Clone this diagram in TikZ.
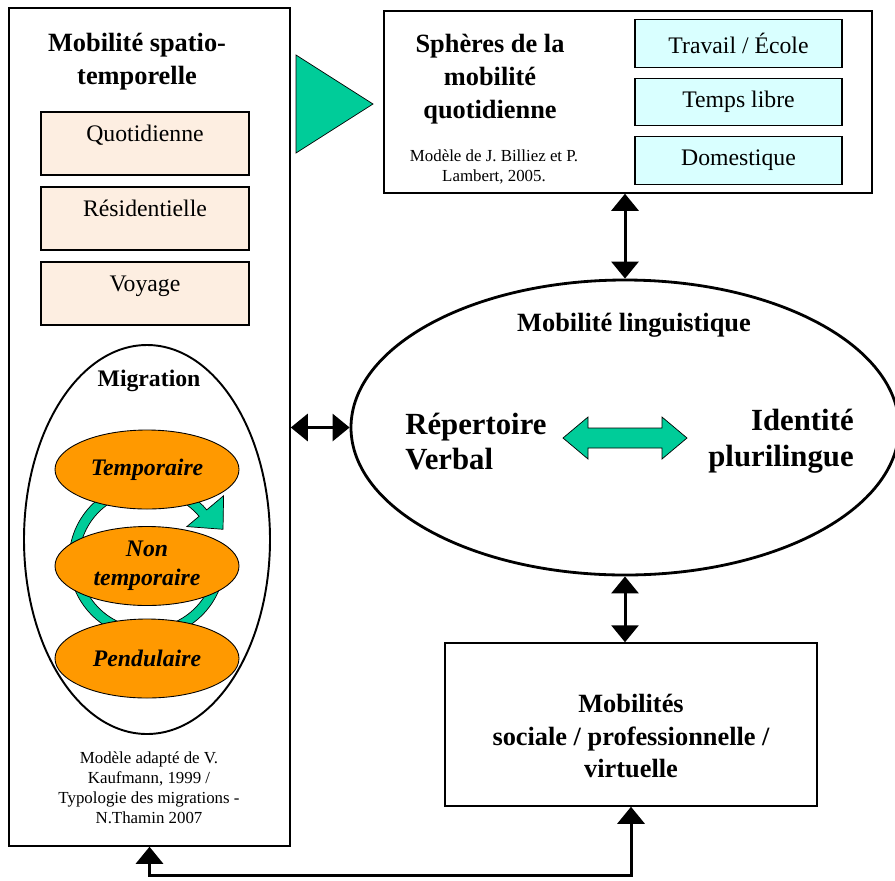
\documentclass[tikz,border=0pt]{standalone}
\usepackage{fontspec}
\setmainfont{Liberation Serif}
\usepackage{xcolor}
\usetikzlibrary{arrows.meta,positioning,shapes.geometric}
\definecolor{peach}{HTML}{FDEEE1}
\definecolor{skyfill}{HTML}{D9FFFF}
\definecolor{orangefill}{HTML}{FF9900}
\definecolor{greenarrow}{HTML}{00CC99}
\tikzset{
	outerbox/.style={draw, line width=0.85pt, inner sep=0pt},
	peachbox/.style={draw, fill=peach, line width=0.6pt, minimum width=4.16cm, minimum height=1.26cm,
		inner sep=0.1cm, text height=0.48cm, text depth=0.58cm, font=\fontsize{13.5pt}{16pt}\selectfont},
	skybox/.style={draw, fill=skyfill, line width=0.6pt, minimum width=4.14cm, minimum height=0.95cm,
		font=\fontsize{13.5pt}{16pt}\selectfont},
	migr/.style={ellipse, draw, fill=orangefill, line width=0.5pt, minimum width=3.68cm, minimum height=1.58cm,
		inner sep=0pt, align=center, font=\bfseries\itshape\fontsize{13.5pt}{16.4pt}\selectfont},
	title/.style={align=center, inner sep=0pt, font=\bfseries\fontsize{15pt}{18.7pt}\selectfont},
	bigword/.style={inner sep=0pt, font=\bfseries\fontsize{17.5pt}{20.4pt}\selectfont},
	credit/.style={align=center, inner sep=0pt, font=\fontsize{9.6pt}{11.3pt}\selectfont},
	link/.style={{Triangle[length=0.34cm,width=0.54cm]}-{Triangle[length=0.34cm,width=0.54cm]}, line width=0.06cm},
	greenfill/.style={fill=greenarrow, draw=black, line width=0.4pt},
}
\begin{document}
\begin{tikzpicture}[on grid]
	\useasboundingbox (0,0) rectangle (17.9,-17.6);

	% left column
	\node[outerbox, minimum width=5.62cm, minimum height=16.76cm] (spatio) at (2.99,-8.54) {};
	\node[title] (spatiotitle) at (2.74,-1.24) {Mobilité spatio-\\temporelle};
	\node[peachbox] (quot) at (2.9,-2.87) {Quotidienne};
	\node[peachbox, below=1.5cm of quot] (resid) {Résidentielle};
	\node[peachbox, below=1.5cm of resid] (voyage) {Voyage};

	\node[ellipse, draw, line width=1.1pt, minimum width=4.92cm, minimum height=7.78cm] (migration) at (2.94,-10.79) {};
	\node[title, font=\bfseries\fontsize{13.5pt}{16pt}\selectfont] (migrtitle) at (2.98,-7.62) {Migration};

	% circular arrow behind the types
	\filldraw[greenfill, shift={(2.94,-11.2)}] (340:1.56) arc[start angle=340, end angle=40, radius=1.56]
		-- (40:2.0) -- (22:1.64) -- (40:1.04) -- (40:1.36)
		arc[start angle=40, end angle=340, radius=1.36] -- cycle;

	\node[migr] (temp) at (2.94,-9.39) {Temporaire};
	\node[migr, below=1.93cm of temp] (nontemp) {Non\\temporaire};
	\node[migr, below=1.85cm of nontemp] (pend) {Pendulaire};

	\node[credit] (spatiocredit) at (2.98,-15.76) {Modèle adapté de V.\\Kaufmann, 1999 /\\Typologie des migrations -\\N.Thamin 2007};

	% spheres
	\filldraw[greenfill] (5.92,-1.1) -- (5.92,-3.06) -- (7.46,-2.08) -- cycle;
	\node[outerbox, minimum width=9.76cm, minimum height=3.64cm] (spheres) at (12.56,-2.04) {};
	\node[title] (spherestitle) at (9.8,-1.58) {Sphères de la\\mobilité\\quotidienne};
	\node[credit] (spherescredit) at (9.88,-3.34) {Modèle de J. Billiez et P.\\Lambert, 2005.};
	\node[skybox] (travail) at (14.77,-0.87) {Travail / École};
	\node[skybox, below=1.17cm of travail] (libre) {Temps libre};
	\node[skybox, below=1.17cm of libre] (domest) {Domestique};

	% linguistic mobility
	\node[ellipse, draw, line width=1.6pt, minimum width=10.96cm, minimum height=5.9cm] (ling) at (12.5,-8.55) {};
	\node[title] (lingtitle) at (12.68,-6.5) {Mobilité linguistique};
	\node[bigword, anchor=west, align=left] (repert) at (8.1,-8.83) {Répertoire\\Verbal};
	\node[bigword, anchor=east, align=right] (ident) at (17.08,-8.83) {Identité\\plurilingue};
	\filldraw[greenfill] (11.26,-8.76) -- ++(0.5,0.42) -- ++(0,-0.22) -- ++(1.48,0) -- ++(0,0.22)
		-- ++(0.5,-0.42) -- ++(-0.5,-0.42) -- ++(0,0.22) -- ++(-1.48,0) -- ++(0,-0.22) -- cycle;

	% social mobility
	\node[outerbox, minimum width=7.44cm, minimum height=3.26cm] (social) at (12.62,-14.49) {};
	\node[title] (socialtitle) at (12.62,-14.72) {Mobilités\\sociale / professionnelle /\\virtuelle};

	% connectors
	\draw[link] (ling.north |- spheres.south) -- (ling.north);
	\draw[link] (spatio.east |- ling.west) -- (ling.west);
	\draw[link] (ling.south) -- (ling.south |- social.north);
	\coordinate (floor) at (0,-17.5);
	\draw[link] (social.south) -- (social.south |- floor) -| (spatio.south);
\end{tikzpicture}
\end{document}
